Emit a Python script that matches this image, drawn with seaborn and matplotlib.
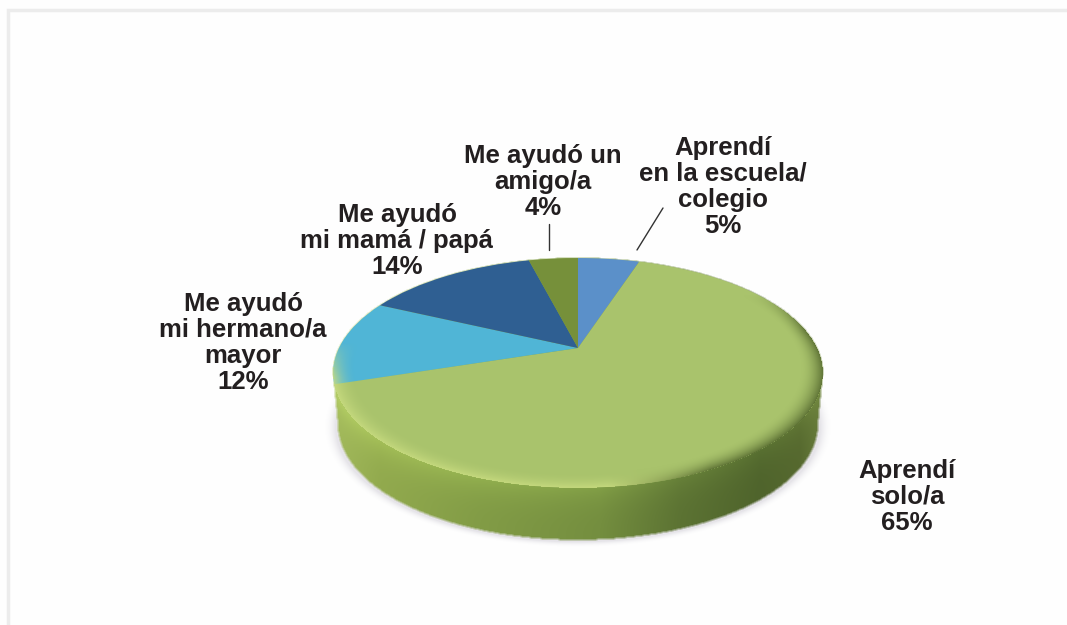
import numpy as np
import matplotlib
matplotlib.use('Agg')
import matplotlib.pyplot as plt
from matplotlib.colors import to_rgb
from matplotlib.path import Path
from matplotlib.transforms import Transform
import seaborn as sns

# Chart values, clockwise from the top
categories = ['Aprendí\nen la escuela/\ncolegio', 'Aprendí\nsolo/a', 'Me ayudó\nmi hermano/a\nmayor',
              'Me ayudó\nmi mamá / papá', 'Me ayudó un\namigo/a']
values = [5, 65, 12, 14, 4]
slice_colors = ['#5b90c9', '#a9c36c', '#50b5d6', '#2f5f92', '#76903a']

# Centre of each label, in pixels
label_x = [723, 907, 243, 397, 543]
label_y = [187, 497, 343, 241, 182]

W, H = 1067, 625
CX, CY = 578, 348      # pie apex on screen
SX, SY, K = 239, 109.5, 0.217   # perspective of the disc
DEPTH = 52

sns.set_theme(style='white')
plt.rcParams['font.family'] = ['Liberation Sans', 'DejaVu Sans']


class Perspective(Transform):
    input_dims = 2
    output_dims = 2
    is_separable = False
    has_inverse = False

    def transform_non_affine(self, xy):
        xy = np.asarray(xy)
        w = 1 + K * xy[:, 1]
        return np.column_stack([CX + SX * xy[:, 0] / w, CY - SY * xy[:, 1] / w])


def lerp_stops(px, stops, cols):
    rgb = np.array([to_rgb(c) for c in cols])
    return np.stack([np.interp(px, stops, rgb[:, i]) for i in range(3)], axis=-1)


def box_blur(a, n=3):
    kernel = np.ones(n) / n
    a = np.apply_along_axis(lambda v: np.convolve(v, kernel, mode='same'), 0, a)
    return np.apply_along_axis(lambda v: np.convolve(v, kernel, mode='same'), 1, a)


fig = plt.figure(figsize=(W / 100, H / 100), dpi=100, facecolor='#fefefe')
ax = fig.add_axes([0, 0, 1, 1])

px, py = np.meshgrid(np.arange(W) + 0.5, np.arange(H) + 0.5)
extent = (0, W, H, 0)

# screen ellipse of the rim
ell_cy = CY + (SY / (1 - K) - SY / (1 + K)) / 2
ell_ry = (SY / (1 - K) + SY / (1 + K)) / 2
ell_rx = SX / np.sqrt(1 - K ** 2)

# soft shadow under the disc
d = np.hypot((px - CX) / (ell_rx * 0.99), (py - (ell_cy + DEPTH + 2)) / ell_ry)
shadow = np.zeros((H, W, 4))
shadow[..., :3] = to_rgb('#a8a4b4')
shadow[..., 3] = 0.28 * np.clip((1.05 - d) / 0.05, 0, 1) ** 2
ax.imshow(shadow, extent=extent, aspect='auto', zorder=1, interpolation='bilinear')

# side of the disc, masked to the swept outline
th = np.radians(np.arange(0, 181))
top_rim = np.column_stack([CX + ell_rx * np.cos(th), ell_cy - ell_ry * np.sin(th)])
bot_rim = np.column_stack([CX - ell_rx * 0.98 * np.cos(th), ell_cy + DEPTH + ell_ry * np.sin(th)])
outline = Path(np.vstack([top_rim, bot_rim]))
inside = outline.contains_points(np.column_stack([px.ravel(), py.ravel()])).reshape(px.shape)

side = lerp_stops(px, [333, 380, 480, 600, 680, 760, 800, 824],
                  ['#a3ba5c', '#92aa4e', '#829c46', '#748e3f', '#5c7333', '#4f642c', '#56692f', '#6a7f3c'])
rim_y = ell_cy + ell_ry * np.sqrt(np.clip(1 - ((px - CX) / ell_rx) ** 2, 0, 1))
t = np.clip((py - rim_y) / DEPTH, 0, 1)
side = np.clip(side * (1 + 0.12 * (1 - t)[..., None] ** 3), 0, 1)
ax.imshow(np.dstack([side, box_blur(inside.astype(float))]), extent=extent, aspect='auto', zorder=2,
          interpolation='bilinear')

# top face
wedges, _ = ax.pie(values, colors=sns.color_palette(slice_colors), startangle=90, counterclock=False,
                   wedgeprops={'linewidth': 0})
persp = Perspective()
for w in wedges:
    w.set_transform(persp + ax.transData)
    w.set_zorder(3)

# bevel along the rim of the top face
X = (px - CX) / SX
Y = (CY - py) / SY
den = 1 - K * Y
dy_ = Y / den
dx_ = X / den
r = np.hypot(dx_, dy_)
edge = np.clip((r - 0.91) / 0.09, 0, 1) ** 2
front = np.clip((0.05 - dy_) / 0.3, 0, 1)
dark_right = np.clip((dx_ - 0.45) / 0.35, 0, 1)
front = np.maximum(front, dark_right * np.clip((0.55 - dy_) / 0.4, 0, 1))
light = np.clip((0.45 - dx_) / 0.35, 0, 1)
bevel = np.zeros((H, W, 4))
bevel[..., :3] = lerp_stops(light, [0, 1], ['#55692f', '#c9dc80'])
bevel[..., 3] = 0.85 * edge * front * (r <= 1.0)
ax.imshow(bevel, extent=extent, aspect='auto', zorder=4, interpolation='bilinear')

# labels with their percentages
for name, val, lx, ly in zip(categories, values, label_x, label_y):
    ax.text(lx, ly, f'{name}\n{val}%', ha='center', va='center', fontsize=18.5, fontweight='bold',
            color='#231f20', linespacing=1.12, zorder=6)

# leader lines
ax.plot([549, 549], [224, 250], color='#333333', lw=1.0, zorder=5)
ax.plot([663, 637], [208, 250], color='#333333', lw=1.0, zorder=5)

# page frame
ax.plot([8, 8, W], [H, 10, 10], color='#ececec', lw=2.5, zorder=0, solid_joinstyle='miter')

ax.set_aspect('auto')
ax.set_xlim(0, W)
ax.set_ylim(H, 0)
ax.axis('off')

fig.savefig('out.png', dpi=100, facecolor=fig.get_facecolor())
